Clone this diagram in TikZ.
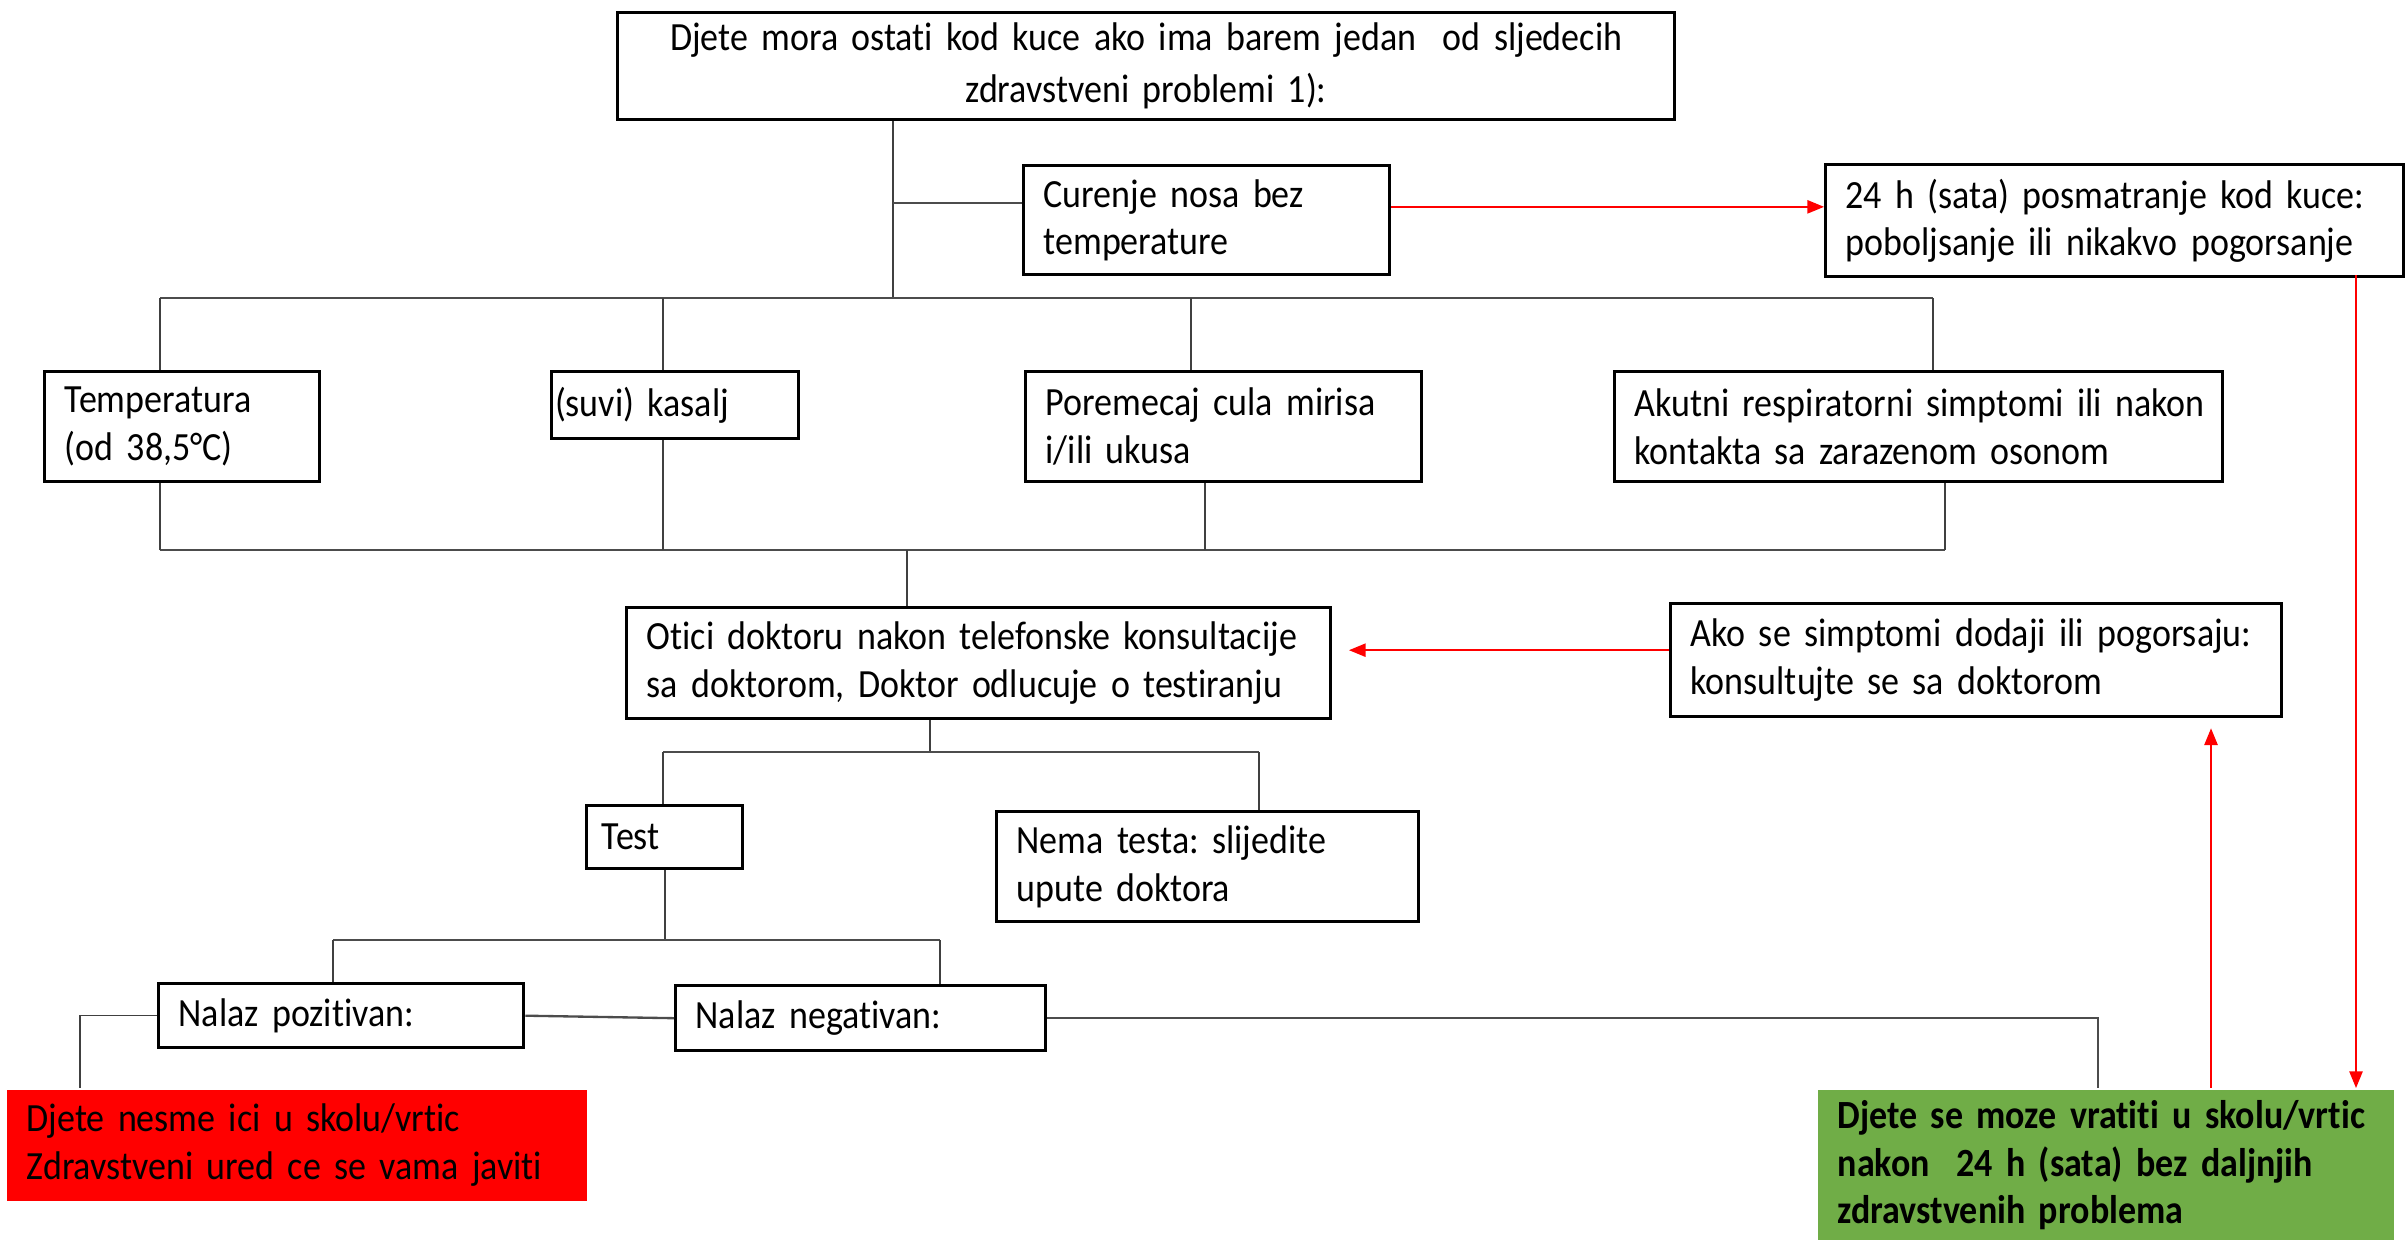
\documentclass[tikz,border=0pt]{standalone}
\usepackage{fontspec}
\setmainfont{Carlito}[FakeStretch=0.9, WordSpace=0.65, Ligatures=NoCommon]
\usetikzlibrary{arrows.meta}
\definecolor{zelena}{HTML}{70AD47}

\begin{document}
\begin{tikzpicture}[x=0.3pt,y=-0.3pt,
   box/.style={draw, line width=1pt, anchor=north west, align=left, inner xsep=6pt, inner ysep=0pt, font=\fontsize{12}{14.3}\selectfont\frenchspacing},
   link/.style={draw=black!75, line width=0.4pt},
   bus/.style={draw=black!70, line width=0.7pt},
   redarr/.style={draw=red, line width=0.45pt, -{Triangle[length=5pt,width=4pt]}}]
   \useasboundingbox (0,0) rectangle (2407,1239);
   \node[box, align=center, text width=305.1pt, minimum height=32.1pt, font=\fontsize{12}{15.6}\selectfont\frenchspacing] (uvod) at (616,11) {\mbox{Djete mora ostati kod kuce ako ima barem jedan~ od sljedecih}\\zdravstveni problemi 1):};
   \node[box, text width=97.8pt, minimum height=32.7pt] (nos) at (1022,164) {\mbox{Curenje nosa bez}\\temperature};
   \node[box, text width=161.4pt, minimum height=33.6pt] (kuca) at (1824,163) {\mbox{24 h (sata) posmatranje kod kuce:}\\\mbox{poboljsanje ili nikakvo pogorsanje}};
   \node[box, text width=70.5pt, minimum height=33pt] (temp) at (43,370) {Temperatura\\\mbox{(od 38,5°C)}};
   \node[box, inner xsep=1pt, text width=72.1pt, minimum height=20.1pt] (kasalj) at (550,370) {(suvi) kasalj};
   \node[box, text width=106.8pt, minimum height=33pt] (miris) at (1024,370) {\mbox{Poremecaj cula mirisa}\\i/ili ukusa};
   \node[box, text width=170.4pt, minimum height=33pt] (akut) at (1613,370) {\mbox{Akutni respiratorni simptomi ili nakon}\\\mbox{kontakta sa zarazenom osonom}};
   \node[box, text width=199.2pt, minimum height=33.3pt] (doktor) at (625,606) {\mbox{Otici doktoru nakon telefonske konsultacije}\\\mbox{sa doktorom, Doktor odlucuje o testiranju}};
   \node[box, text width=171.3pt, minimum height=33.9pt] (pogorsanje) at (1669,602) {\mbox{Ako se simptomi dodaji ili pogorsaju:}\\\mbox{konsultujte se sa doktorom}};
   \node[box, inner xsep=4.5pt, text width=37.8pt, minimum height=18.9pt] (test) at (585,804) {Test};
   \node[box, text width=114.6pt, minimum height=33pt] (nematesta) at (995,810) {\mbox{Nema testa: slijedite}\\upute doktora};
   \node[box, text width=97.5pt, minimum height=19.2pt] (pozitivan) at (157,982) {\mbox{Nalaz pozitivan:}};
   \node[box, text width=99pt, minimum height=19.5pt] (negativan) at (674,984) {\mbox{Nalaz negativan:}};
   \node[box, draw=none, fill=red, text width=162pt, minimum height=33.3pt] (ostaje) at (5,1088) {\mbox{Djete nesme ici u skolu/vrtic}\\\mbox{Zdravstveni ured ce se vama javiti}};
   \node[box, draw=none, fill=zelena, text width=160.8pt, minimum height=45.3pt, font=\fontsize{12}{14.3}\selectfont\bfseries\frenchspacing] (vraca) at (1816,1088) {\mbox{Djete se moze vratiti u skolu/vrtic}\\\mbox{nakon~ 24 h (sata) bez daljnjih}\\\mbox{zdravstvenih problema}};

   \coordinate (t0) at (893,298);
   \coordinate (t1) at (893,203);
   \coordinate (d1) at (160,298);
   \coordinate (d2) at (663,298);
   \coordinate (d3) at (1191,298);
   \coordinate (d4) at (1933,298);
   \coordinate (u0) at (907,550);
   \coordinate (u1) at (160,550);
   \coordinate (u2) at (663,550);
   \coordinate (u3) at (1205,550);
   \coordinate (u4) at (1945,550);
   \coordinate (v0) at (930,752);
   \coordinate (v1) at (663,752);
   \coordinate (v2) at (1259,752);
   \coordinate (w0) at (665,940);
   \coordinate (w1) at (333,940);
   \coordinate (w2) at (940,940);
   \coordinate (p1) at (80,1012);
   \coordinate (n1) at (2098,1018);
   \coordinate (r1) at (2356,275);
   \coordinate (r2) at (2211,1088);

   \draw[link] (uvod.south -| t0) -- (t0);
   \draw[bus] (t1) -- (t1 -| nos.west);
   \draw[redarr] ([yshift=4pt]nos.east) -- ([yshift=4pt]nos.east -| kuca.west);
   \draw[bus] (d1) -- (d4);
   \draw[link] (d1) -- (d1 |- temp.north);
   \draw[link] (d2) -- (d2 |- kasalj.north);
   \draw[link] (d3) -- (d3 |- miris.north);
   \draw[link] (d4) -- (d4 |- akut.north);
   \draw[bus] (u1) -- (u4);
   \draw[link] (u1) -- (u1 |- temp.south);
   \draw[link] (u2) -- (u2 |- kasalj.south);
   \draw[link] (u3) -- (u3 |- miris.south);
   \draw[link] (u4) -- (u4 |- akut.south);
   \draw[link] (u0) -- (u0 |- doktor.north);
   \draw[link] (doktor.south -| v0) -- (v0);
   \draw[bus] (v1) -- (v2);
   \draw[link] (v1) -- (v1 |- test.north);
   \draw[link] (v2) -- (v2 |- nematesta.north);
   \draw[link] (test.south -| w0) -- (w0);
   \draw[bus] (w1) -- (w2);
   \draw[link] (w1) -- (w1 |- pozitivan.north);
   \draw[link] (w2) -- (w2 |- negativan.north);
   \draw[bus] (pozitivan.east) -- (negativan.west);
   \draw[link] (pozitivan.west) -- (pozitivan.west -| p1) -- (p1 |- ostaje.north);
   \draw[bus] (negativan.east) -- (negativan.east -| n1) -- (n1 |- vraca.north);
   \draw[redarr] (r1) -- (r1 |- vraca.north);
   \draw[redarr] (r2) -- ([yshift=-3pt]r2 |- pogorsanje.south);
   \draw[redarr, shorten >=5pt] ([yshift=3pt]pogorsanje.west) -- ([yshift=3pt]pogorsanje.west -| doktor.east);
\end{tikzpicture}
\end{document}
